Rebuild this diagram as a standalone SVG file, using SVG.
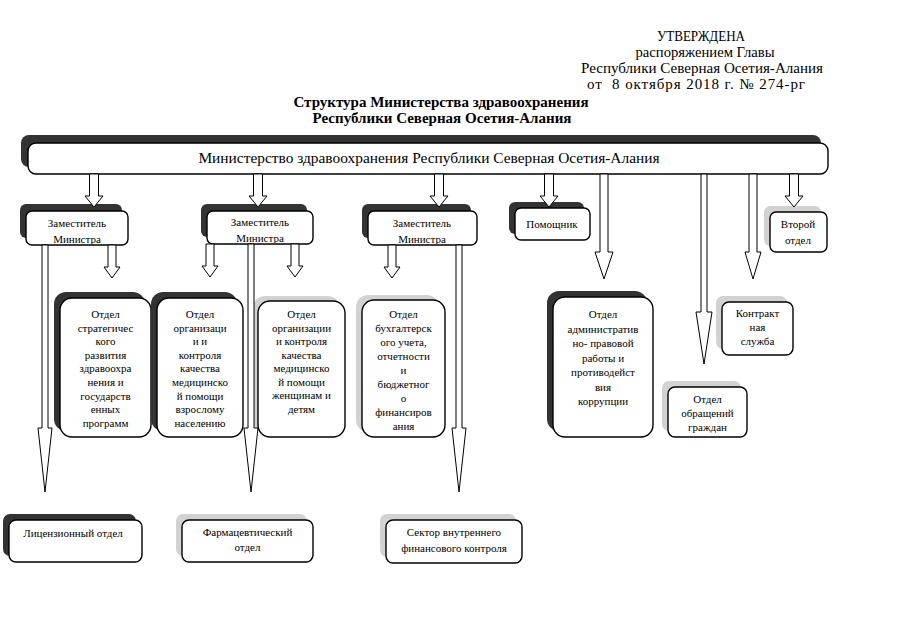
<svg xmlns="http://www.w3.org/2000/svg" width="905" height="640" viewBox="0 0 905 640" font-family="'Liberation Serif', 'Times New Roman', serif">
<style>
.hdr{font-family:"Liberation Serif","Times New Roman",serif;font-size:15px;text-anchor:middle}
.ttl{font-family:"Liberation Serif","Times New Roman",serif;font-size:15px;font-weight:bold;text-anchor:middle}
.t{font-family:"Liberation Serif","Times New Roman",serif;font-size:11px;text-anchor:middle}
.m{font-family:"Liberation Serif","Times New Roman",serif;font-size:15.4px;text-anchor:middle}
.box{fill:#fff;stroke:#000;stroke-width:1.4}
.sd{fill:#333}
.sl{fill:#d2d2d2}
.ar{fill:#fff;stroke:#000;stroke-width:1}
</style>
<defs>
<clipPath id="cd1"><rect x="26" y="211" width="102" height="33"/></clipPath>
<clipPath id="cd2"><rect x="207" y="211" width="106" height="32"/></clipPath>
<clipPath id="cd3"><rect x="368" y="211" width="109" height="33"/></clipPath>
</defs>
<rect width="905" height="640" fill="#fff"/>
<g id="header">
<text class="hdr" x="701" y="41" textLength="88" lengthAdjust="spacingAndGlyphs">УТВЕРЖДЕНА</text>
<text class="hdr" x="705" y="57" textLength="139" lengthAdjust="spacingAndGlyphs">распоряжением Главы</text>
<text class="hdr" x="702" y="73" textLength="242" lengthAdjust="spacingAndGlyphs">Республики Северная Осетия-Алания</text>
<text class="hdr" x="696" y="89" textLength="218" lengthAdjust="spacing" xml:space="preserve">от  8 октября 2018 г. № 274-рг</text>
<text class="ttl" x="441" y="107">Структура Министерства здравоохранения</text>
<text class="ttl" x="442" y="123">Республики Северная Осетия-Алания</text>
</g>
<g id="ministry">
<rect class="sd" x="21" y="135" width="800" height="32" rx="8"/>
<rect class="box" x="28" y="143" width="800" height="31" rx="8"/>
<text class="m" x="429" y="163">Министерство здравоохранения Республики Северная Осетия-Алания</text>
</g>
<g id="deputy1">
<rect class="sd" x="20" y="204" width="102" height="34" rx="6"/>
<rect class="box" x="26" y="211" width="102" height="34" rx="6"/>
<text class="t" clip-path="url(#cd1)"><tspan x="77" y="227">Заместитель</tspan><tspan x="77" y="243">Министра</tspan></text>
</g>
<g id="deputy2">
<rect class="sd" x="201" y="204" width="106" height="33" rx="6"/>
<rect class="box" x="207" y="211" width="106" height="33" rx="6"/>
<text class="t" clip-path="url(#cd2)"><tspan x="260" y="226">Заместитель</tspan><tspan x="260" y="242">Министра</tspan></text>
</g>
<g id="deputy3">
<rect class="sd" x="362" y="204" width="109" height="34" rx="6"/>
<rect class="box" x="368" y="211" width="109" height="34" rx="6"/>
<text class="t" clip-path="url(#cd3)"><tspan x="422" y="227">Заместитель</tspan><tspan x="422" y="243">Министра</tspan></text>
</g>
<g id="assistant">
<rect class="sd" x="509" y="202" width="75" height="32" rx="6"/>
<rect class="box" x="515" y="208" width="75" height="32" rx="6"/>
<text class="t" x="552" y="228">Помощник</text>
</g>
<g id="second">
<rect class="sl" x="764" y="206" width="57" height="40" rx="6"/>
<rect class="box" x="770" y="212" width="57" height="40" rx="6"/>
<text class="t"><tspan x="798" y="228">Второй</tspan><tspan x="798" y="244">отдел</tspan></text>
</g>
<g id="strategy">
<rect class="sd" x="54" y="292" width="91" height="139" rx="12"/>
<rect class="box" x="60" y="298" width="91" height="139" rx="12"/>
<text class="t"><tspan x="105.5" y="318">Отдел</tspan><tspan x="105.5" dy="13.6">стратегичес</tspan><tspan x="105.5" dy="13.6">кого</tspan><tspan x="105.5" dy="13.6">развития</tspan><tspan x="105.5" dy="13.6">здравоохра</tspan><tspan x="105.5" dy="13.6">нения и</tspan><tspan x="105.5" dy="13.6">государств</tspan><tspan x="105.5" dy="13.6">енных</tspan><tspan x="105.5" dy="13.6">программ</tspan></text>
</g>
<g id="adults">
<rect class="sd" x="151" y="292" width="86" height="139" rx="12"/>
<rect class="box" x="157" y="298" width="86" height="139" rx="12"/>
<text class="t"><tspan x="200" y="318">Отдел</tspan><tspan x="200" dy="13.6">организаци</tspan><tspan x="200" dy="13.6">и и</tspan><tspan x="200" dy="13.6">контроля</tspan><tspan x="200" dy="13.6">качества</tspan><tspan x="200" dy="13.6">медицинско</tspan><tspan x="200" dy="13.6">й помощи</tspan><tspan x="200" dy="13.6">взрослому</tspan><tspan x="200" dy="13.6">населению</tspan></text>
</g>
<g id="women">
<rect class="sl" x="253" y="296" width="87" height="136" rx="12"/>
<rect class="box" x="258" y="301" width="87" height="136" rx="12"/>
<text class="t"><tspan x="301.5" y="318">Отдел</tspan><tspan x="301.5" dy="13.5">организации</tspan><tspan x="301.5" dy="13.5">и контроля</tspan><tspan x="301.5" dy="13.5">качества</tspan><tspan x="301.5" dy="13.5">медицинско</tspan><tspan x="301.5" dy="13.5">й помощи</tspan><tspan x="301.5" dy="13.5">женщинам и</tspan><tspan x="301.5" dy="13.5">детям</tspan></text>
</g>
<g id="accounting">
<rect class="sl" x="356" y="295" width="83" height="137" rx="12"/>
<rect class="box" x="362" y="300" width="83" height="137" rx="12"/>
<text class="t"><tspan x="403.5" y="318">Отдел</tspan><tspan x="403.5" dy="14">бухгалтерск</tspan><tspan x="403.5" dy="14">ого учета,</tspan><tspan x="403.5" dy="14">отчетности</tspan><tspan x="403.5" dy="14">и</tspan><tspan x="403.5" dy="14">бюджетног</tspan><tspan x="403.5" dy="14">о</tspan><tspan x="403.5" dy="14">финансиров</tspan><tspan x="403.5" dy="14">ания</tspan></text>
</g>
<g id="legal">
<rect class="sd" x="547" y="291" width="100" height="140" rx="12"/>
<rect class="box" x="553" y="297" width="100" height="140" rx="12"/>
<text class="t"><tspan x="603" y="318">Отдел</tspan><tspan x="603" dy="14.5">административ</tspan><tspan x="603" dy="14.5">но- правовой</tspan><tspan x="603" dy="14.5">работы и</tspan><tspan x="603" dy="14.5">противодейст</tspan><tspan x="603" dy="14.5">вия</tspan><tspan x="603" dy="14.5">коррупции</tspan></text>
</g>
<g id="contract">
<rect class="sl" x="716" y="296" width="71" height="53" rx="7"/>
<rect class="box" x="722" y="302" width="71" height="53" rx="7"/>
<text class="t"><tspan x="757.5" y="317">Контракт</tspan><tspan x="757.5" dy="14">ная</tspan><tspan x="757.5" dy="14">служба</tspan></text>
</g>
<g id="appeals">
<rect class="sl" x="662" y="381" width="79" height="50" rx="7"/>
<rect class="box" x="668" y="387" width="79" height="50" rx="7"/>
<text class="t"><tspan x="707.5" y="403">Отдел</tspan><tspan x="707.5" dy="14">обращений</tspan><tspan x="707.5" dy="14">граждан</tspan></text>
</g>
<g id="licensing">
<rect class="sd" x="3" y="514" width="133" height="42" rx="7"/>
<rect class="box" x="9" y="520" width="133" height="42" rx="7"/>
<text class="t" x="73" y="537">Лицензионный отдел</text>
</g>
<g id="pharma">
<rect class="sl" x="176" y="514" width="131" height="42" rx="7"/>
<rect class="box" x="182" y="520" width="131" height="42" rx="7"/>
<text class="t"><tspan x="247.5" y="536">Фармацевтический</tspan><tspan x="247.5" dy="15">отдел</tspan></text>
</g>
<g id="audit">
<rect class="sl" x="380" y="514" width="136" height="43" rx="7"/>
<rect class="box" x="386" y="520" width="136" height="43" rx="7"/>
<text class="t"><tspan x="454" y="536">Сектор внутреннего</tspan><tspan x="454" dy="16">финансового контроля</tspan></text>
</g>
<g id="connectors">
<polygon class="ar" points="89.5,174 89.5,196 85,196 94,207 103,196 98.5,196 98.5,174"/>
<polygon class="ar" points="253.5,174 253.5,196 249,196 258,207 267,196 262.5,196 262.5,174"/>
<polygon class="ar" points="434.5,174 434.5,196 430,196 439,207 448,196 443.5,196 443.5,174"/>
<polygon class="ar" points="544.5,174 544.5,196 540,196 549,207 558,196 553.5,196 553.5,174"/>
<polygon class="ar" points="600,174 600,252 595,252 604,279 613,252 608,252 608,174"/>
<polygon class="ar" points="701,174 701,312 696,312 704,364 712,312 707,312 707,174"/>
<polygon class="ar" points="749,174 749,252 745,252 753,279 761,252 757,252 757,174"/>
<polygon class="ar" points="789.5,174 789.5,196 785,196 794,207 803,196 798.5,196 798.5,174"/>
<polygon class="ar" points="108,245 108,267 104,267 112,278 120,267 116,267 116,245"/>
<polygon class="ar" points="42,245 42,428 38,428 45,492 52,428 48,428 48,245"/>
<polygon class="ar" points="206,244 206,266 202,266 210,277 218,266 214,266 214,244"/>
<polygon class="ar" points="248,244 248,428 244,428 251,492 258,428 254,428 254,244"/>
<polygon class="ar" points="291,244 291,266 287,266 295,277 303,266 299,266 299,244"/>
<polygon class="ar" points="388,245 388,267 384,267 392,278 400,267 396,267 396,245"/>
<polygon class="ar" points="456,245 456,428 452,428 459,492 466,428 462,428 462,245"/>
</g>
</svg>
